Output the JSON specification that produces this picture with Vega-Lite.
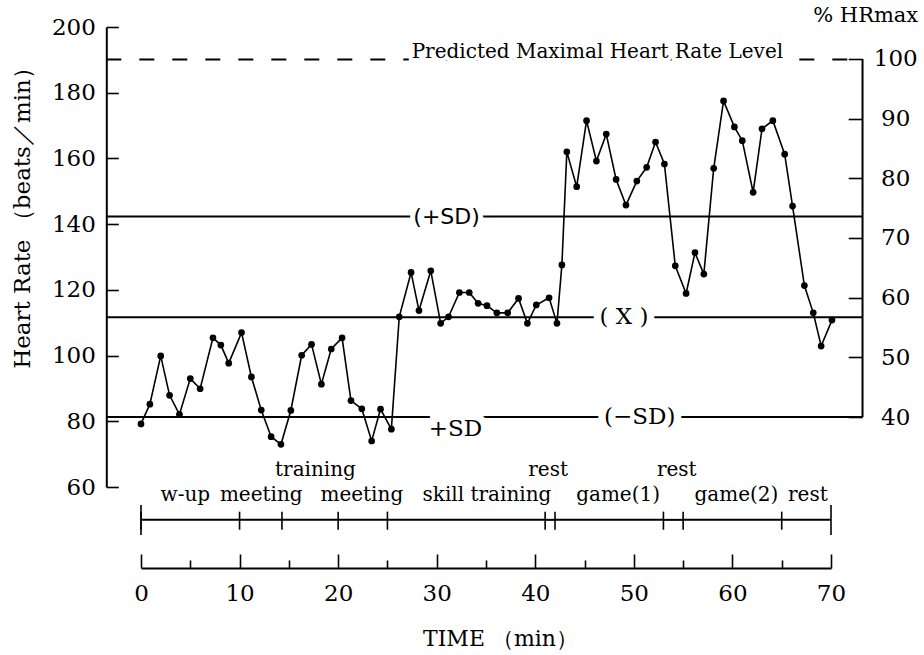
{
  "$schema": "https://vega.github.io/schema/vega-lite/v6.json",
  "width": 690,
  "height": 460,
  "autosize": {"type": "none"},
  "padding": {"left": 141, "top": 27, "right": 93, "bottom": 168},
  "background": "white",
  "datasets": {
    "hr": [
      {"time": 0.0, "bpm": 79.2}, {"time": 0.9, "bpm": 85.2}, {"time": 2.0, "bpm": 99.9}, {"time": 2.9, "bpm": 87.9},
      {"time": 3.9, "bpm": 82.1}, {"time": 5.0, "bpm": 93.0}, {"time": 6.0, "bpm": 89.9}, {"time": 7.3, "bpm": 105.4},
      {"time": 8.1, "bpm": 103.2}, {"time": 8.9, "bpm": 97.7}, {"time": 10.2, "bpm": 107.0}, {"time": 11.2, "bpm": 93.5},
      {"time": 12.2, "bpm": 83.4}, {"time": 13.2, "bpm": 75.3}, {"time": 14.2, "bpm": 73.0}, {"time": 15.2, "bpm": 83.3},
      {"time": 16.3, "bpm": 100.1}, {"time": 17.3, "bpm": 103.4}, {"time": 18.3, "bpm": 91.3}, {"time": 19.3, "bpm": 102.0},
      {"time": 20.4, "bpm": 105.4}, {"time": 21.3, "bpm": 86.3}, {"time": 22.4, "bpm": 83.8}, {"time": 23.4, "bpm": 74.0},
      {"time": 24.3, "bpm": 83.7}, {"time": 25.4, "bpm": 77.6}, {"time": 26.2, "bpm": 111.8}, {"time": 27.4, "bpm": 125.3},
      {"time": 28.2, "bpm": 113.7}, {"time": 29.4, "bpm": 125.8}, {"time": 30.4, "bpm": 109.8}, {"time": 31.2, "bpm": 111.8},
      {"time": 32.3, "bpm": 119.2}, {"time": 33.3, "bpm": 119.2}, {"time": 34.2, "bpm": 115.9}, {"time": 35.1, "bpm": 115.2},
      {"time": 36.1, "bpm": 113.0}, {"time": 37.2, "bpm": 113.0}, {"time": 38.3, "bpm": 117.4}, {"time": 39.2, "bpm": 109.8},
      {"time": 40.1, "bpm": 115.4}, {"time": 41.4, "bpm": 117.6}, {"time": 42.2, "bpm": 109.8}, {"time": 42.7, "bpm": 127.6},
      {"time": 43.2, "bpm": 162.0}, {"time": 44.2, "bpm": 151.4}, {"time": 45.2, "bpm": 171.5}, {"time": 46.2, "bpm": 159.2},
      {"time": 47.2, "bpm": 167.4}, {"time": 48.2, "bpm": 153.6}, {"time": 49.2, "bpm": 145.8}, {"time": 50.3, "bpm": 153.1},
      {"time": 51.3, "bpm": 157.3}, {"time": 52.2, "bpm": 165.0}, {"time": 53.1, "bpm": 158.3}, {"time": 54.2, "bpm": 127.3},
      {"time": 55.3, "bpm": 118.9}, {"time": 56.2, "bpm": 131.3}, {"time": 57.1, "bpm": 124.8}, {"time": 58.1, "bpm": 157.0},
      {"time": 59.1, "bpm": 177.5}, {"time": 60.2, "bpm": 169.6}, {"time": 61.0, "bpm": 165.4}, {"time": 62.1, "bpm": 149.7},
      {"time": 63.0, "bpm": 169.0}, {"time": 64.1, "bpm": 171.5}, {"time": 65.3, "bpm": 161.3}, {"time": 66.1, "bpm": 145.5},
      {"time": 67.3, "bpm": 121.3}, {"time": 68.2, "bpm": 113.0}, {"time": 69.0, "bpm": 102.9}, {"time": 70.1, "bpm": 110.8}
    ],
    "refs": [
      {"kind": "predicted", "name": "Predicted Maximal Heart Rate Level", "bpm": 190.1},
      {"kind": "stat", "name": "+SD", "bpm": 142.3},
      {"kind": "stat", "name": "mean", "bpm": 111.7},
      {"kind": "stat", "name": "-SD", "bpm": 81.3}
    ],
    "labels": [
      {"label": "Predicted Maximal Heart Rate Level", "time": 46.3, "bpm": 192.4},
      {"label": "(+SD)", "time": 31.0, "bpm": 142.3},
      {"label": "( X )", "time": 49.0, "bpm": 111.7},
      {"label": "(−SD)", "time": 50.6, "bpm": 81.3},
      {"label": "+SD", "time": 31.9, "bpm": 77.6}
    ],
    "segments": [
      {"activity": "w-up", "start": 0, "end": 10, "row": 1, "at": 4.5},
      {"activity": "meeting", "start": 10, "end": 14.3, "row": 1, "at": 12.2},
      {"activity": "training", "start": 14.3, "end": 20, "row": 2, "at": 17.7},
      {"activity": "meeting", "start": 20, "end": 25, "row": 1, "at": 22.4},
      {"activity": "skill training", "start": 25, "end": 41, "row": 1, "at": 35.1},
      {"activity": "rest", "start": 41, "end": 42, "row": 2, "at": 41.3},
      {"activity": "game(1)", "start": 42, "end": 53, "row": 1, "at": 48.4},
      {"activity": "rest", "start": 53, "end": 55, "row": 2, "at": 54.35},
      {"activity": "game(2)", "start": 55, "end": 65, "row": 1, "at": 60.4},
      {"activity": "rest", "start": 65, "end": 70, "row": 1, "at": 67.65}
    ]
  },
  "layer": [
    {
      "layer": [
        {
          "data": {"name": "refs"},
          "transform": [{"filter": "datum.kind == 'stat'"}],
          "mark": {"type": "rule", "strokeWidth": 2, "color": "black"},
          "encoding": {
            "x": {"datum": -3.52, "type": "quantitative"},
            "x2": {"datum": 73.2},
            "y": {"field": "bpm", "type": "quantitative"}
          }
        },
        {
          "data": {"name": "refs"},
          "transform": [{"filter": "datum.kind == 'predicted'"}],
          "mark": {"type": "rule", "strokeWidth": 2, "color": "black", "strokeDash": [15, 18]},
          "encoding": {
            "x": {"datum": -3.52, "type": "quantitative"},
            "x2": {"datum": 73.2},
            "y": {"field": "bpm", "type": "quantitative"}
          }
        },
        {
          "data": {"name": "hr"},
          "mark": {"type": "line", "color": "black", "strokeWidth": 1.6, "point": {"filled": true, "size": 45, "color": "black", "opacity": 1}},
          "encoding": {
            "x": {
              "field": "time", "type": "quantitative",
              "scale": {"domain": [0, 70], "nice": false, "zero": false},
              "axis": {
                "orient": "bottom", "offset": 81, "values": [0, 10, 20, 30, 40, 50, 60, 70],
                "tickSize": -14, "labelPadding": 28, "labelFontSize": 23, "labelAngle": 0,
                "labelFlush": false, "labelOverlap": false,
                "title": "TIME （min）", "titleFontSize": 22, "titleX": 359, "titleY": 70,
                "titleBaseline": "middle", "titleAlign": "center"
              }
            },
            "y": {
              "field": "bpm", "type": "quantitative",
              "scale": {"domain": [60, 200], "nice": false, "zero": false},
              "axis": {
                "orient": "left", "offset": 34.7, "values": [60, 80, 100, 120, 140, 160, 180, 200],
                "tickSize": -12, "labelPadding": 23, "labelFontSize": 23, "labelFlush": false,
                "title": "Heart Rate （beats／min）", "titleFontSize": 23, "titleX": -84, "titleY": 185,
                "titleAngle": 270, "titleAlign": "center", "titleBaseline": "middle"
              }
            }
          }
        },
        {
          "data": {"name": "labels"},
          "transform": [{"filter": "datum.label == 'Predicted Maximal Heart Rate Level'"}],
          "mark": {"type": "text", "fontSize": 20, "font": "DejaVu Serif", "fill": "white", "stroke": "white", "strokeWidth": 8, "baseline": "middle"},
          "encoding": {"x": {"field": "time", "type": "quantitative"}, "y": {"field": "bpm", "type": "quantitative"}, "text": {"field": "label"}}
        },
        {
          "data": {"name": "labels"},
          "transform": [{"filter": "datum.label == '(+SD)'"}],
          "mark": {"type": "text", "fontSize": 22, "font": "DejaVu Sans", "fill": "white", "stroke": "white", "strokeWidth": 10, "baseline": "middle"},
          "encoding": {"x": {"field": "time", "type": "quantitative"}, "y": {"field": "bpm", "type": "quantitative"}, "text": {"field": "label"}}
        },
        {
          "data": {"name": "labels"},
          "transform": [{"filter": "datum.label != '(+SD)' && datum.label != 'Predicted Maximal Heart Rate Level'"}],
          "mark": {"type": "text", "fontSize": 23, "font": "DejaVu Serif", "fill": "white", "stroke": "white", "strokeWidth": 15, "baseline": "middle"},
          "encoding": {"x": {"field": "time", "type": "quantitative"}, "y": {"field": "bpm", "type": "quantitative"}, "text": {"field": "label"}}
        },
        {
          "data": {"name": "labels"},
          "transform": [{"filter": "datum.label == 'Predicted Maximal Heart Rate Level'"}],
          "mark": {"type": "text", "fontSize": 20, "font": "DejaVu Serif", "color": "black", "baseline": "middle"},
          "encoding": {"x": {"field": "time", "type": "quantitative"}, "y": {"field": "bpm", "type": "quantitative"}, "text": {"field": "label"}}
        },
        {
          "data": {"name": "labels"},
          "transform": [{"filter": "datum.label == '(+SD)'"}],
          "mark": {"type": "text", "fontSize": 22, "font": "DejaVu Sans", "color": "black", "baseline": "middle"},
          "encoding": {"x": {"field": "time", "type": "quantitative"}, "y": {"field": "bpm", "type": "quantitative"}, "text": {"field": "label"}}
        },
        {
          "data": {"name": "labels"},
          "transform": [{"filter": "datum.label != '(+SD)' && datum.label != 'Predicted Maximal Heart Rate Level'"}],
          "mark": {"type": "text", "fontSize": 23, "font": "DejaVu Serif", "color": "black", "baseline": "middle"},
          "encoding": {"x": {"field": "time", "type": "quantitative"}, "y": {"field": "bpm", "type": "quantitative"}, "text": {"field": "label"}}
        },
        {
          "data": {"name": "segments"},
          "mark": {"type": "rule", "strokeWidth": 2, "color": "black"},
          "encoding": {
            "x": {"field": "start", "type": "quantitative"},
            "x2": {"field": "end"},
            "y": {"datum": 50, "type": "quantitative"}
          }
        },
        {
          "data": {"name": "segments"},
          "mark": {"type": "rule", "strokeWidth": 1.6, "color": "black"},
          "encoding": {
            "x": {"field": "start", "type": "quantitative"},
            "y": {"datum": 47, "type": "quantitative"},
            "y2": {"datum": 52.5}
          }
        },
        {
          "data": {"name": "segments"},
          "transform": [{"filter": "datum.start == 0"}],
          "mark": {"type": "rule", "strokeWidth": 1.6, "color": "black"},
          "encoding": {
            "x": {"field": "start", "type": "quantitative"},
            "y": {"datum": 45.4, "type": "quantitative"},
            "y2": {"datum": 54.5}
          }
        },
        {
          "data": {"name": "segments"},
          "transform": [{"filter": "datum.end == 70"}],
          "mark": {"type": "rule", "strokeWidth": 1.6, "color": "black"},
          "encoding": {
            "x": {"field": "end", "type": "quantitative"},
            "y": {"datum": 45.4, "type": "quantitative"},
            "y2": {"datum": 54.5}
          }
        },
        {
          "data": {"name": "segments"},
          "transform": [{"filter": "datum.row == 1"}],
          "mark": {"type": "text", "fontSize": 20, "font": "DejaVu Serif", "color": "black", "baseline": "alphabetic"},
          "encoding": {
            "x": {"field": "at", "type": "quantitative"},
            "y": {"datum": 55.7, "type": "quantitative"},
            "text": {"field": "activity"}
          }
        },
        {
          "data": {"name": "segments"},
          "transform": [{"filter": "datum.row == 2"}],
          "mark": {"type": "text", "fontSize": 20, "font": "DejaVu Serif", "color": "black", "baseline": "alphabetic"},
          "encoding": {
            "x": {"field": "at", "type": "quantitative"},
            "y": {"datum": 63.3, "type": "quantitative"},
            "text": {"field": "activity"}
          }
        }
      ]
    },
    {
      "data": {"values": [{"axis": "%HRmax", "low": 40, "high": 100}]},
      "mark": {"type": "rule", "strokeWidth": 2, "color": "black"},
      "encoding": {
        "x": {
          "datum": 73.2, "type": "quantitative",
          "axis": {"orient": "bottom", "offset": 81, "values": [5, 15, 25, 35, 45, 55, 65], "tickSize": -8, "labels": false, "domain": false, "title": null}
        },
        "y": {
          "field": "low", "type": "quantitative",
          "scale": {"domain": [28.27, 105.36], "nice": false, "zero": false},
          "axis": {
            "orient": "right", "offset": 31.2, "values": [40, 50, 60, 70, 80, 90, 100],
            "tickSize": -14, "labelAlign": "center", "labelPadding": 47, "labelFontSize": 23,
            "labelFlush": false, "domain": false,
            "title": "% HRmax", "titleAngle": 0, "titleX": 3, "titleY": -12,
            "titleAlign": "center", "titleBaseline": "middle", "titleFontSize": 21
          }
        },
        "y2": {"field": "high"}
      }
    }
  ],
  "resolve": {"scale": {"y": "independent"}, "axis": {"y": "independent", "x": "independent"}},
  "config": {
    "view": {"stroke": null},
    "axis": {
      "grid": false, "domainColor": "black", "tickColor": "black", "labelColor": "black", "titleColor": "black",
      "labelFont": "DejaVu Serif", "titleFont": "DejaVu Serif", "titleFontWeight": "normal",
      "domainWidth": 2, "tickWidth": 1.6
    },
    "text": {"font": "DejaVu Serif"}
  }
}
